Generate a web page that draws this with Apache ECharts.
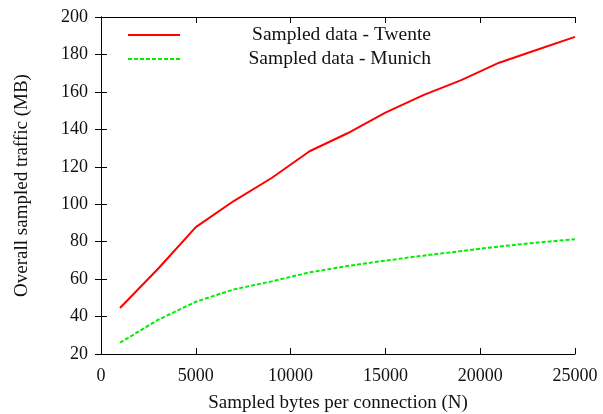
<!DOCTYPE html>
<html>
<head>
<meta charset="utf-8">
<script src="https://cdn.jsdelivr.net/npm/echarts@6/dist/echarts.min.js"></script>
<style>
  html, body { margin: 0; padding: 0; background: #fff; }
  #chart { width: 603px; height: 414px; }
</style>
</head>
<body>
<div id="chart"></div>
<script>
// Sample sizes (bytes per connection)
const bytesPerConnection = [1000, 3000, 5000, 7000, 9000, 11000, 13000, 15000, 17000, 19000, 21000, 23000, 25000];
// Overall sampled traffic in MB
const twenteTraffic = [44.6, 65.4, 87.8, 101.7, 114, 128.3, 137.9, 148.9, 158.3, 166.3, 175.6, 182.5, 189.4];
const munichTraffic = [26, 38.2, 47.9, 54.5, 58.8, 63.6, 67, 69.9, 72.5, 75, 77.4, 79.5, 81.3];
const seriesNames = ['Sampled data - Twente', 'Sampled data - Munich'];

const FONT = 'Liberation Serif';
const FS_TICK = 18;
const FS_TEXT = 19;

const chart = echarts.init(document.getElementById('chart'), null, { renderer: 'canvas' });

const zip = (xs, ys) => xs.map((x, i) => [x, ys[i]]);

// Legend sample glyphs: a solid bar and a bar broken into short dashes (52 x 2 units)
const solidIcon = 'path://M0,0h52v2h-52z';
let dashPath = '';
for (let x = 0; x < 52; x += 6) dashPath += 'M' + x + ',0h' + Math.min(4, 52 - x) + 'v2h-' + Math.min(4, 52 - x) + 'z';
const dashedIcon = 'path://' + dashPath;

const baseX = {
  type: 'value', min: 0, max: 25000, interval: 5000,
  axisLine: { show: true, lineStyle: { color: '#000', width: 1 } },
  axisTick: { show: true, inside: true, length: 6, lineStyle: { color: '#000' } },
  splitLine: { show: false }
};
const baseY = {
  type: 'value', min: 20, max: 200, interval: 20,
  axisLine: { show: true, lineStyle: { color: '#000', width: 1 } },
  axisTick: { show: true, inside: true, length: 6, lineStyle: { color: '#000' } },
  splitLine: { show: false }
};

chart.setOption({
  animation: false,
  backgroundColor: '#fff',
  textStyle: { fontFamily: FONT },
  grid: { left: 101, right: 28, top: 17, bottom: 60, containLabel: false, outerBoundsMode: 'none' },
  legend: {
    orient: 'vertical',
    left: 123, top: 20,
    itemWidth: 52, itemHeight: 2, itemGap: 4,
    data: [
      { name: seriesNames[0], icon: solidIcon },
      { name: seriesNames[1], icon: dashedIcon }
    ],
    formatter: name => '{t|' + name + '}',
    textStyle: {
      fontFamily: FONT, fontSize: 19.5, color: '#111',
      rich: { t: { fontFamily: FONT, fontSize: 19.5, color: '#111', width: 246, align: 'right' } }
    }
  },
  xAxis: [
    Object.assign({}, baseX, {
      position: 'bottom',
      name: 'Sampled bytes per connection (N)',
      nameLocation: 'middle', nameGap: 40,
      nameTextStyle: { fontFamily: FONT, fontSize: FS_TEXT, color: '#111' },
      axisLabel: { fontFamily: FONT, fontSize: FS_TICK, color: '#111', margin: 13, formatter: v => String(v) }
    }),
    Object.assign({}, baseX, { position: 'top', axisLabel: { show: false } })
  ],
  yAxis: [
    Object.assign({}, baseY, {
      position: 'left',
      name: 'Overall sampled traffic (MB)',
      nameLocation: 'middle', nameGap: 69,
      nameTextStyle: { fontFamily: FONT, fontSize: FS_TEXT, color: '#111' },
      axisLabel: { fontFamily: FONT, fontSize: FS_TICK, color: '#111', margin: 13, formatter: v => String(v) }
    }),
    Object.assign({}, baseY, { position: 'right', axisLabel: { show: false } })
  ],
  series: [
    {
      name: seriesNames[0], type: 'line', symbol: 'none',
      data: zip(bytesPerConnection, twenteTraffic),
      itemStyle: { color: '#ff0000' },
      lineStyle: { color: '#ff0000', width: 2 }
    },
    {
      name: seriesNames[1], type: 'line', symbol: 'none',
      data: zip(bytesPerConnection, munichTraffic),
      itemStyle: { color: '#00ee00' },
      lineStyle: { color: '#00ee00', width: 2, type: [4, 2] }
    }
  ]
});
</script>
</body>
</html>
